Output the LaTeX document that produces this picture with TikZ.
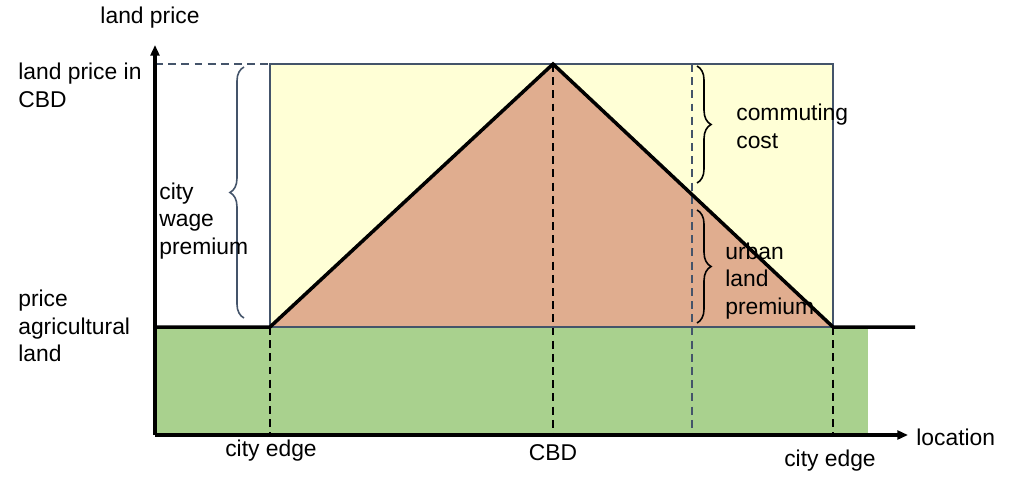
\documentclass[tikz,border=0pt]{standalone}
\usepackage{fontspec}
\setmainfont{Liberation Sans}
\usetikzlibrary{arrows.meta,decorations.pathreplacing}
\definecolor{cityyellow}{HTML}{FFFFD6}
\definecolor{rentorange}{HTML}{E0AD8F}
\definecolor{farmgreen}{HTML}{A9D18E}
\definecolor{slate}{HTML}{44546A}

\begin{document}
\begin{tikzpicture}[x=0.02cm, y=-0.02cm, font=\fontsize{13}{15.8}\selectfont,
  axis/.style={line width=1.8pt, -{Triangle[length=6pt,width=5pt]}},
  profile/.style={line width=2pt, line join=miter},
  guide/.style={dash pattern=on 4.5pt off 3pt, line width=0.9pt},
  bracebar/.style={decorate, decoration={brace, amplitude=8pt}, line width=0.9pt},
  label/.style={align=left, anchor=west, inner sep=0pt}]
  \useasboundingbox (0,0) rectangle (1024,484);

  % key points
  \coordinate (origin) at (155,435);
  \coordinate (ytop) at (155,45);
  \coordinate (xend) at (908,435);
  \coordinate (agri-left) at (155,327);
  \coordinate (edge-l) at (270,327);
  \coordinate (cbd) at (553,64);
  \coordinate (edge-r) at (833,327);
  \coordinate (agri-right) at (915,327);
  \coordinate (cbd-axis) at (155,64);
  \coordinate (edge-l-top) at (270,64);

  % areas
  \fill[farmgreen] (155,327) rectangle (868,435);
  \filldraw[fill=cityyellow, draw=slate, line width=0.8pt] (edge-l-top) rectangle (edge-r);
  \fill[rentorange] (edge-l) -- (cbd) -- (edge-r) -- cycle;
  \draw[slate, line width=0.8pt] (edge-l) -- (edge-r);

  % guide lines
  \draw[guide, slate] (cbd-axis) -- (edge-l-top);
  \draw[guide] (edge-l) -- (270,435);
  \draw[guide] (553,64) -- (553,435);
  \draw[guide] (edge-r) -- (833,435);
  \draw[guide, slate] (692,64) -- (692,435);

  % braces
  \draw[bracebar, slate] (244,318) -- (244,67);
  \draw[bracebar] (697,66) -- (697,183);
  \draw[bracebar] (697,210) -- (697,323);

  % land price profile
  \draw[profile] (agri-left) -- (edge-l) -- (cbd) -- (edge-r) -- (agri-right);

  % axes
  \draw[axis] (origin) -- (ytop);
  \draw[axis] (origin) -- (xend);

  % texts
  \node (ylabel) [inner sep=0pt] at (150,18) {land price};
  \node (xlabel) [label] at (916,437) {location};
  \node (cbd-price) [label] at (18,85) {land price in\\CBD};
  \node (agri-price) [label] at (18,326) {price\\agricultural\\land};
  \node (wage) [label] at (159,221) {city\\wage\\premium};
  \node (commute) [label] at (736,126) {commuting\\cost};
  \node (urban) [label] at (725,281) {urban\\land\\premium};
  \node (edge-l-text) [inner sep=0pt] at (271,451) {city edge};
  \node (cbd-text) [inner sep=0pt] at (553,453) {CBD};
  \node (edge-r-text) [inner sep=0pt] at (830,461) {city edge};
\end{tikzpicture}
\end{document}
